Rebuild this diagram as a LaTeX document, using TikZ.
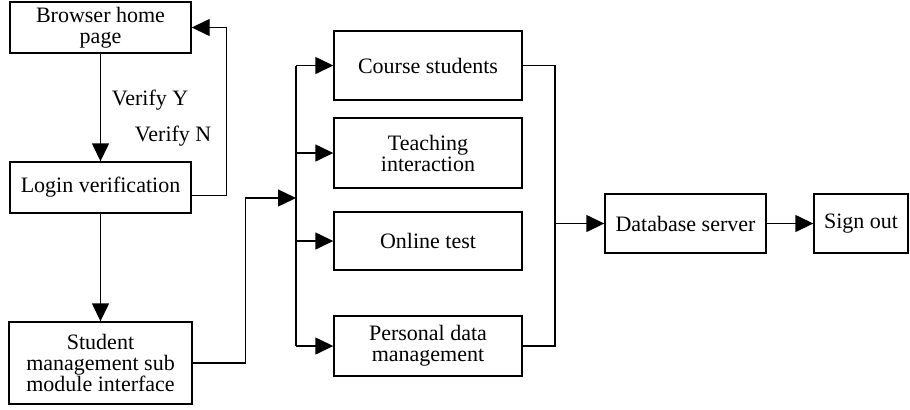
\documentclass[tikz,border=0pt]{standalone}
\usepackage{fontspec}
\setmainfont{Liberation Serif}
\usetikzlibrary{arrows.meta}

\begin{document}
\begin{tikzpicture}[x=0.5pt, y=-0.5pt, line width=0.7pt,
  >={Triangle[length=9pt,width=8.5pt]},
  box/.style={draw, align=center, inner sep=1pt, font=\fontsize{11}{10.5}\selectfont},
  lbl/.style={font=\fontsize{11}{13}\selectfont}]

  \useasboundingbox (0,0) rectangle (910,409);

  % Left column
  \node[box, minimum width=90.5pt, minimum height=25.5pt] (browser) at (100.5,27.5) {Browser home\\page};
  \node[box, minimum width=90.5pt, minimum height=25.5pt] (login) at (100.5,187.5) {Login verification};
  \node[box, minimum width=91.5pt, minimum height=41pt] (student) at (100.5,363) {Student\\management sub\\module interface};

  % Sub modules
  \node[box, minimum width=94pt, minimum height=34.5pt] (course) at (428,65.5) {Course students};
  \node[box, minimum width=94pt, minimum height=35pt] (teach) at (428,153) {Teaching\\interaction};
  \node[box, minimum width=94pt, minimum height=29pt] (online) at (428,241) {Online test};
  \node[box, minimum width=94pt, minimum height=30pt] (personal) at (428,346) {Personal data\\management};

  % Right side
  \node[box, minimum width=80.5pt, minimum height=29.5pt] (db) at (685.5,223.5) {Database server};
  \node[box, minimum width=47pt, minimum height=29.5pt] (signout) at (861,223.5) {Sign out};

  \coordinate (busin) at (296,198);
  \coordinate (merge) at (555,223.5);

  % Login flow
  \draw[->] (browser.south) -- (login.north) node[lbl, pos=0.43, right=2pt] {Verify Y};
  \draw[->] ([yshift=-4pt]login.east) -- ++(35,0) |- (browser.east) node[lbl, pos=0.177, left=4pt] {Verify N};
  \draw[->] (login.south) -- (student.north);

  % Into the sub modules
  \draw[->] (student.east) -- ++(53,0) |- (busin);
  \draw (busin |- course.west) -- (busin |- personal.west);
  \foreach \n in {course,teach,online,personal}
    \draw[->] (busin |- \n.west) -- (\n.west);

  % Out to the server
  \draw (course.east) -| (merge) |- (personal.east);
  \draw[->] (merge) -- (db.west);
  \draw[->] (db.east) -- (signout.west);

\end{tikzpicture}
\end{document}
